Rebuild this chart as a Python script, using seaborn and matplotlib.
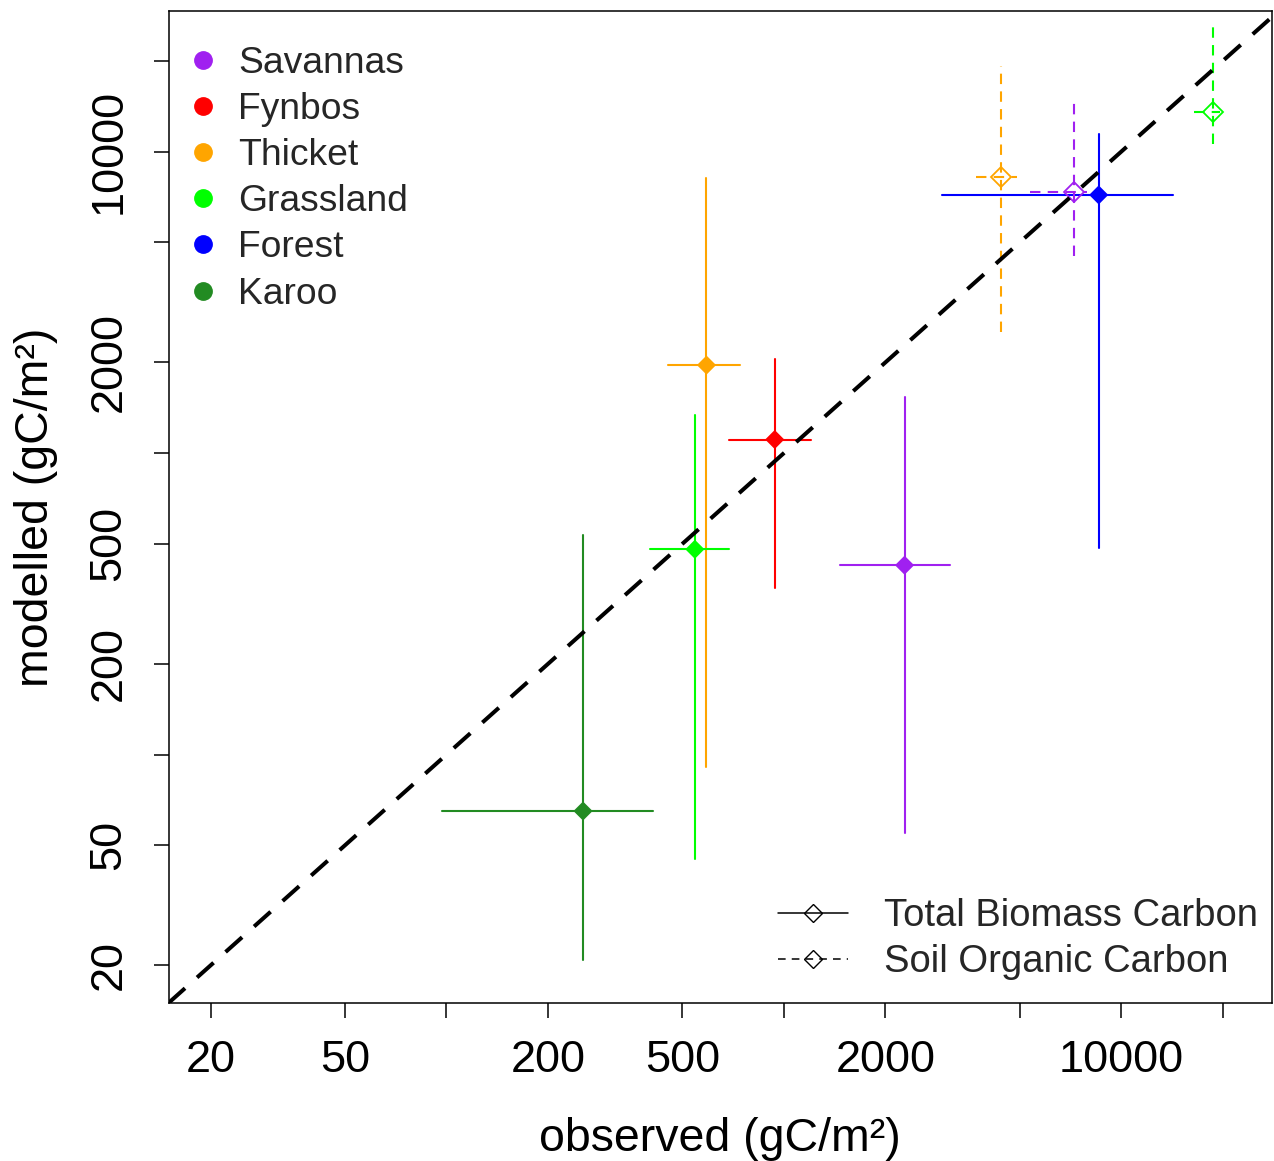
import matplotlib
matplotlib.use("Agg")
import matplotlib.pyplot as plt
import seaborn as sns
from matplotlib.lines import Line2D
from matplotlib.ticker import FixedLocator, FixedFormatter, NullLocator

# biomes and colours (R colour names)
biomes = ["Savannas", "Fynbos", "Thicket", "Grassland", "Forest", "Karoo"]
biome_colors = ["#A020F0", "#FF0000", "#FFA500", "#00FF00", "#0000FF", "#228B22"]

# total biomass carbon: observed vs modelled, with ranges
tb_obs = [2280, 940, 590, 545, 8580, 254]
tb_obs_lo = [1470, 690, 455, 400, 2940, 97]
tb_obs_hi = [3100, 1200, 740, 690, 14200, 410]
tb_mod = [425, 1110, 1960, 480, 7190, 65]
tb_mod_lo = [55, 357, 91, 45, 484, 20.8]
tb_mod_hi = [1540, 2050, 8190, 1340, 11450, 535]

# soil organic carbon
soc_biomes = ["Savannas", "Thicket", "Grassland"]
soc_obs = [7240, 4390, 18700]
soc_obs_lo = [5360, 3710, 16400]
soc_obs_hi = [7900, 4900, 19700]
soc_mod = [7370, 8270, 13500]
soc_mod_lo = [4510, 2530, 10600]
soc_mod_hi = [14600, 19200, 27000]

tick_vals = [20, 50, 100, 200, 500, 1000, 2000, 5000, 10000, 20000]
tick_labels = ["20", "50", "", "200", "500", "", "2000", "", "10000", ""]
xlims = [15, 28000]
ylims = [15, 29300]

sns.set_theme(style="ticks")
plt.rcParams["font.family"] = ["Liberation Sans", "DejaVu Sans"]

col = dict(zip(biomes, biome_colors))

fig = plt.figure(figsize=(12.74, 11.61), dpi=100)
ax = fig.add_axes([168.5 / 1274, 158 / 1161, 1103.5 / 1274, 992 / 1161])
ax.set_xscale("log")
ax.set_yscale("log")

# error bars - total biomass (solid)
for i, b in enumerate(biomes):
    ax.plot([tb_obs_lo[i], tb_obs_hi[i]], [tb_mod[i], tb_mod[i]], color=col[b], lw=1.5, zorder=2)
    ax.plot([tb_obs[i], tb_obs[i]], [tb_mod_lo[i], tb_mod_hi[i]], color=col[b], lw=1.5, zorder=2)

# error bars - soil organic carbon (dashed)
for i, b in enumerate(soc_biomes):
    ax.plot([soc_obs_lo[i], soc_obs_hi[i]], [soc_mod[i], soc_mod[i]], color=col[b], lw=1.5,
            linestyle=(0, (5, 3.5)), zorder=2)
    ax.plot([soc_obs[i], soc_obs[i]], [soc_mod_lo[i], soc_mod_hi[i]], color=col[b], lw=1.5,
            linestyle=(0, (5, 3.5)), zorder=2)

sns.scatterplot(x=tb_obs, y=tb_mod, hue=biomes, palette=biome_colors, marker="D", s=95,
                edgecolor="none", legend=False, ax=ax, zorder=3)
for i, b in enumerate(soc_biomes):
    ax.plot(soc_obs[i], soc_mod[i], marker="D", markersize=10, markerfacecolor="none",
            markeredgecolor=col[b], markeredgewidth=1.3, linestyle="none", zorder=3)

# 1:1 line
ax.plot(xlims, xlims, color="black", lw=2.9, linestyle=(0, (5.5, 4)), zorder=4)

ax.set_xlim(xlims)
ax.set_ylim(ylims)
for axis in (ax.xaxis, ax.yaxis):
    axis.set_major_locator(FixedLocator(tick_vals))
    axis.set_major_formatter(FixedFormatter(tick_labels))
    axis.set_minor_locator(NullLocator())
ax.tick_params(direction="out", length=11, width=1.1, color="black", labelsize=32.5,
               labelcolor="black")
ax.tick_params(axis="x", pad=15.8)
ax.tick_params(axis="y", pad=17)
for lab in ax.get_yticklabels():
    lab.set_rotation(90)
    lab.set_va("center")
for sp in ax.spines.values():
    sp.set_linewidth(1.1)
    sp.set_color("black")

ax.set_xlabel("observed (gC/m²)", fontsize=33.5, color="black")
ax.set_ylabel("modelled (gC/m²)", fontsize=33.5, color="black")
ax.xaxis.set_label_coords(0.5, -0.1153)
ax.yaxis.set_label_coords(-0.100, 0.5)

# legends
h1 = [Line2D([], [], marker="o", color=c, linestyle="none", markersize=12.5) for c in biome_colors]
leg1 = ax.legend(h1, biomes, loc="upper left", bbox_to_anchor=(0.0146, 0.965), frameon=False,
                 fontsize=26.8, borderpad=0, borderaxespad=0, handlelength=1.0,
                 handletextpad=0.44, labelspacing=0.30)
ax.add_artist(leg1)

h2 = [Line2D([], [], color="black", lw=1.1, marker="D", markersize=9.5,
             markerfacecolor="none", markeredgecolor="black", markeredgewidth=1.0),
      Line2D([], [], color="black", lw=1.1, linestyle=(0, (5, 4)), marker="D", markersize=9.5,
             markerfacecolor="none", markeredgecolor="black", markeredgewidth=1.0)]
ax.legend(h2, ["Total Biomass Carbon", "Soil Organic Carbon"], loc="lower right",
          bbox_to_anchor=(0.9873, 0.0229), frameon=False, fontsize=27.5, borderpad=0,
          borderaxespad=0, handlelength=1.83, handletextpad=0.95, labelspacing=0.27)

fig.savefig("out.png", dpi=100, facecolor="white")
